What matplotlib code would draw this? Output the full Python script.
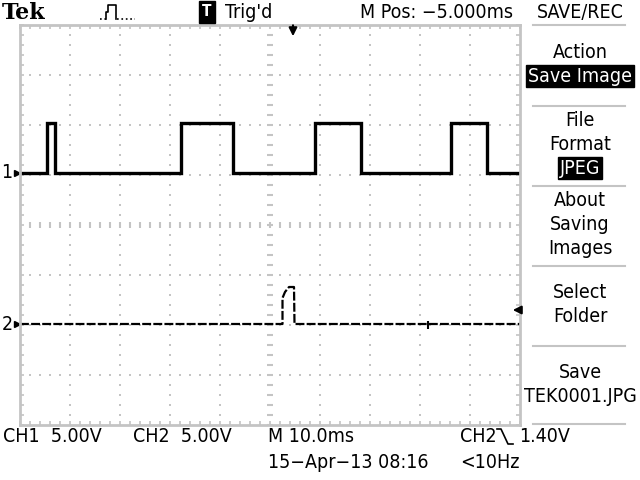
import matplotlib
matplotlib.use("Agg")
import matplotlib.pyplot as plt
import numpy as np

# scope settings
volts_per_div = 5.0
ch1_offset_div = 1.05
ch2_offset_div = -1.98
trig_level = 1.40

# CH1 trace: time (ms from left edge), volts
ch1_t = [0, 5.4, 5.4, 7.0, 7.0, 32.2, 32.2, 42.6, 42.6, 59.0, 59.0, 68.2,
         68.2, 86.2, 86.2, 93.4, 93.4, 100]
ch1_v = [0, 0, 5, 5, 0, 0, 5, 5, 0, 0, 5, 5, 0, 0, 5, 5, 0, 0]

# CH2 trace
ch2_t = [0, 52.5, 52.5, 53.0, 53.8, 54.8, 54.9, 100]
ch2_v = [0, 0, 2.6, 3.2, 3.7, 3.7, 0, 0]

plt.rcParams['font.family'] = ['DejaVu Sans']
plt.rcParams['font.stretch'] = 'condensed'
fig = plt.figure(figsize=(6.4, 4.8), dpi=100)
W, H = 640.0, 480.0

def fx(px):
    return px / W

def fy(py):
    return 1 - py / H

grey = '#c4c4c4'
ax = fig.add_axes([fx(20), fy(425), 500 / W, 400 / H])
ax.set_xlim(0, 100)
ax.set_ylim(-4, 4)
for s in ax.spines.values():
    s.set_color(grey)
    s.set_linewidth(2)
ax.set_xticks([])
ax.set_yticks([])
ax.set_xticks(np.arange(0, 100.1, 2), minor=True)
ax.set_yticks(np.arange(-4, 4.01, 0.2), minor=True)
ax.tick_params(which='minor', direction='in', length=3, width=1.2, color=grey,
               top=True, right=True, labelbottom=False, labelleft=False)

# graticule dots
ys = np.arange(-4, 4.01, 0.2)
xs = np.arange(0, 100.1, 2)
for gx in range(10, 100, 10):
    if gx == 50:
        ax.plot([gx] * len(ys), ys, ls='none', marker='_', ms=5, mew=1.5, color=grey)
    else:
        ax.plot([gx] * len(ys), ys, ls='none', marker='s', ms=1.6, mew=0, color=grey)
for gy in range(-3, 4):
    if gy == 0:
        ax.plot(xs, [gy] * len(xs), ls='none', marker='|', ms=4, mew=1.5, color=grey)
    else:
        ax.plot(xs, [gy] * len(xs), ls='none', marker='s', ms=1.6, mew=0, color=grey)

# traces
ax.plot(ch1_t, np.array(ch1_v) / volts_per_div + ch1_offset_div, color='black', lw=2.4,
        solid_joinstyle='miter')
ax.plot(ch2_t, np.array(ch2_v) / volts_per_div + ch2_offset_div, color='black', lw=1.6,
        ls=(0, (4, 1)))
ax.plot([81.6], [ch2_offset_div - 0.02], marker='|', ms=6, mew=1.5, color='black')

# trigger level arrow (right) and trigger position arrow (top)
ax.annotate('', xy=(98.0, trig_level / volts_per_div + ch2_offset_div),
            xytext=(100.5, trig_level / volts_per_div + ch2_offset_div),
            arrowprops=dict(arrowstyle='-|>', color='black', lw=1.5, mutation_scale=12),
            annotation_clip=False)
ax.annotate('', xy=(54.6, 3.72), xytext=(54.6, 4.05),
            arrowprops=dict(arrowstyle='-|>', color='black', lw=1.5, mutation_scale=12),
            annotation_clip=False)

# channel ground markers
for lab, off in (("1", ch1_offset_div), ("2", ch2_offset_div)):
    ax.text(-2.6, off, lab, ha='center', va='center', fontsize=14, clip_on=False)
    ax.plot([-0.7], [off], marker='>', ms=5, color='black', clip_on=False)

fs = 14
# top bar
fig.text(fx(2), fy(13), "Tek", family='DejaVu Serif', weight='bold', fontsize=16,
         stretch='normal', va='center', ha='left')
fig.text(fx(207), fy(12), "T", color='white', fontsize=11, weight='bold', va='center',
         ha='center', bbox=dict(boxstyle='square,pad=0.2', fc='black', ec='black'))
fig.text(fx(225), fy(12), "Trig'd", fontsize=fs, va='center', ha='left')
fig.text(fx(360), fy(12), "M Pos: \u22125.000ms", fontsize=fs, va='center', ha='left')
fig.add_artist(plt.Line2D([fx(v) for v in (106, 106, 108, 108, 116, 116)],
                          [fy(v) for v in (19, 12, 12, 5, 5, 19)], color='black', lw=1.2))
fig.add_artist(plt.Line2D([fx(100), fx(106)], [fy(19), fy(19)], color='black', lw=1.2, ls=':'))
fig.add_artist(plt.Line2D([fx(117), fx(135)], [fy(19), fy(19)], color='black', lw=1.2, ls=':'))

# menu
cx = fx(580)
fig.text(cx, fy(12), "SAVE/REC", fontsize=fs, va='center', ha='center')
for yl in (25, 106, 186, 266, 346, 424):
    fig.add_artist(plt.Line2D([fx(533), fx(625)], [fy(yl), fy(yl)], color=grey, lw=1.5))
fig.text(cx, fy(52), "Action", fontsize=fs, va='center', ha='center')
fig.text(cx, fy(76), "Save Image", fontsize=fs, va='center', ha='center', color='white',
         bbox=dict(boxstyle='square,pad=0.1', fc='black', ec='black'))
fig.text(cx, fy(120), "File", fontsize=fs, va='center', ha='center')
fig.text(cx, fy(144), "Format", fontsize=fs, va='center', ha='center')
fig.text(cx, fy(168), "JPEG", fontsize=fs, va='center', ha='center', color='white',
         bbox=dict(boxstyle='square,pad=0.1', fc='black', ec='black'))
fig.text(cx, fy(200), "About", fontsize=fs, va='center', ha='center')
fig.text(cx, fy(224), "Saving", fontsize=fs, va='center', ha='center')
fig.text(cx, fy(248), "Images", fontsize=fs, va='center', ha='center')
fig.text(cx, fy(292), "Select", fontsize=fs, va='center', ha='center')
fig.text(cx, fy(316), "Folder", fontsize=fs, va='center', ha='center')
fig.text(cx, fy(372), "Save", fontsize=fs, va='center', ha='center')
fig.text(cx, fy(396), "TEK0001.JPG", fontsize=fs, va='center', ha='center')

# bottom status
fig.text(fx(3), fy(437), "CH1  5.00V", fontsize=fs, va='center', ha='left')
fig.text(fx(133), fy(437), "CH2  5.00V", fontsize=fs, va='center', ha='left')
fig.text(fx(268), fy(437), "M 10.0ms", fontsize=fs, va='center', ha='left')
fig.text(fx(460), fy(437), "CH2", fontsize=fs, va='center', ha='left')
fig.add_artist(plt.Line2D([fx(497), fx(501), fx(508), fx(513)],
                          [fy(429), fy(429), fy(444), fy(444)], color='black', lw=1.2))
fig.text(fx(519), fy(437), "1.40V", fontsize=fs, va='center', ha='left')
fig.text(fx(268), fy(463), "15\u2212Apr\u221213 08:16", fontsize=fs, va='center', ha='left')
fig.text(fx(460), fy(463), "<10Hz", fontsize=fs, va='center', ha='left')

fig.savefig("out.png", dpi=100, facecolor='white')
